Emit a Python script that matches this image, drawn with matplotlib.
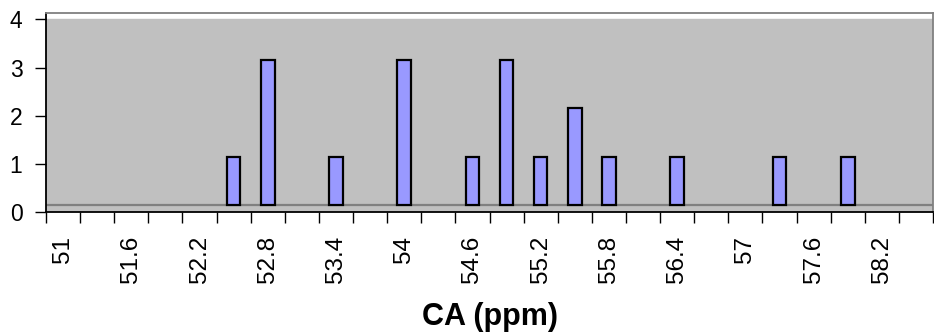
import matplotlib
matplotlib.use("Agg")
import matplotlib.pyplot as plt
import numpy as np

# ── Données ───────────────────────────────────────────────────
bins = ["51", "51.3", "51.6", "51.9", "52.2", "52.5", "52.8", "53.1", "53.4",
        "53.7", "54", "54.3", "54.6", "54.9", "55.2", "55.5", "55.8", "56.1",
        "56.4", "56.7", "57", "57.3", "57.6", "57.9", "58.2", "58.5"]
counts = [0, 0, 0, 0, 0, 1, 3, 0, 1, 0, 3, 0, 1, 3, 1, 2, 1, 0, 1, 0, 0, 1,
          0, 1, 0, 0]
tick_labels = ["51", "51.6", "52.2", "52.8", "53.4", "54", "54.6", "55.2",
               "55.8", "56.4", "57", "57.6", "58.2"]
y_ticks = [0, 1, 2, 3, 4]
xlabel = "CA (ppm)"

# ── Style ─────────────────────────────────────────────────────
plt.rcParams["font.family"] = ["Liberation Sans", "DejaVu Sans"]
BAR_COLOR = "#9999ff"
AREA_GRAY = "#c0c0c0"
BORDER_GRAY = "#808080"
FLOOR = 0.15  # décalage du plancher (style Excel)

fig = plt.figure(figsize=(9.34, 3.35), dpi=100)
ax = fig.add_axes([46 / 934, 123 / 335, 887 / 934, 199.3 / 335])
ax.set_facecolor("white")

x = np.arange(len(bins))
ax.axhspan(0, 4, color=AREA_GRAY, zorder=0)
ax.axhline(FLOOR, color=BORDER_GRAY, lw=1.6, zorder=1)

mask = np.array(counts) > 0
ax.bar(x[mask], np.array(counts)[mask], bottom=FLOOR, width=0.4,
       color=BAR_COLOR, edgecolor="black", linewidth=1.6, zorder=3)

ax.set_xlim(-0.5, len(bins) - 0.5)
ax.set_ylim(0, 4.14)

# ticks aux frontières de catégories, étiquettes au centre
ax.set_xticks(np.arange(len(bins) + 1) - 0.5)
ax.set_xticklabels([])
ax.tick_params(axis="x", which="major", direction="out", length=8,
               width=1, color="black")
label_pos = [bins.index(t) for t in tick_labels]
ax.set_xticks(label_pos, minor=True)
ax.set_xticklabels(tick_labels, minor=True, rotation=90, fontsize=17.5)
ax.tick_params(axis="x", which="minor", length=0, pad=17)

ax.set_yticks(y_ticks)
ax.set_yticklabels([str(v) for v in y_ticks], fontsize=16.5)
ax.tick_params(axis="y", direction="out", length=8, width=1,
               color="black", pad=9)

for side in ["left", "bottom"]:
    ax.spines[side].set_color("black")
    ax.spines[side].set_linewidth(1.3)
for side in ["top", "right"]:
    ax.spines[side].set_color(BORDER_GRAY)
    ax.spines[side].set_linewidth(1.3)

ax.set_xlabel(xlabel, fontsize=22, fontweight="bold")
ax.xaxis.set_label_coords(0.5, -0.45)

fig.savefig("out.png", dpi=100)
